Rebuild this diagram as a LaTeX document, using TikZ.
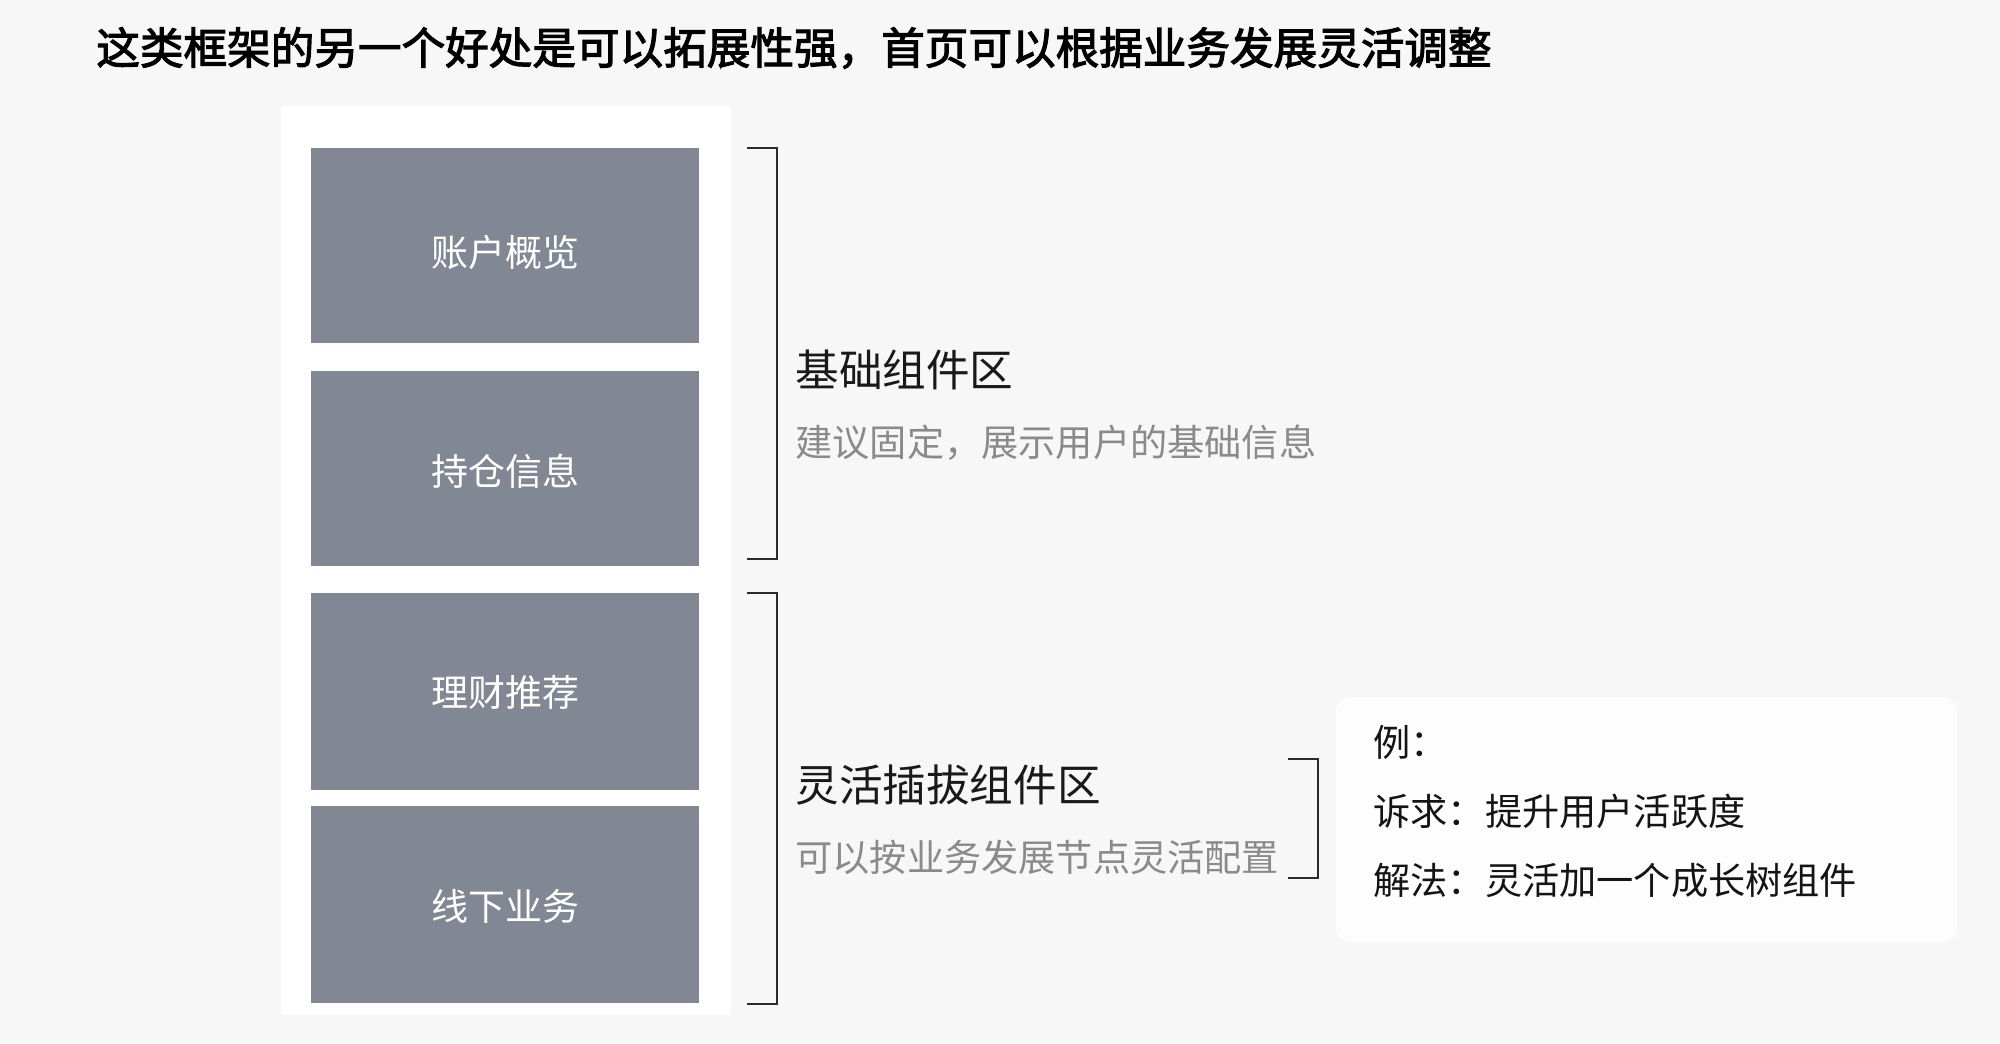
\documentclass[tikz,border=0pt]{standalone}
\usepackage{fontspec}
\setmainfont{Noto Sans CJK SC}
\newfontfamily\cjkbold{Noto Sans CJK SC}[FakeBold=2.5]
\definecolor{bgc}{HTML}{F7F7F7}
\definecolor{boxc}{HTML}{828794}
\definecolor{subc}{HTML}{8A8A8A}
\definecolor{linec}{HTML}{2A2A2A}
\definecolor{notec}{HTML}{FDFDFD}
\tikzset{
  tile/.style={fill=boxc, draw=none},
  tilelabel/.style={text=white, font=\fontsize{18.5pt}{20pt}\selectfont, inner sep=0pt},
  heading/.style={anchor=west, inner sep=0pt, text=black!90, font=\fontsize{21.8pt}{24pt}\selectfont},
  subhead/.style={anchor=west, inner sep=0pt, text=subc, font=\fontsize{18.6pt}{20pt}\selectfont},
  notetext/.style={anchor=west, inner sep=0pt, text=black!92, font=\fontsize{18.6pt}{20pt}\selectfont},
  brace/.style={draw=linec, line width=1pt},
}
\begin{document}
\begin{tikzpicture}[x=0.5pt,y=-0.5pt]
\path[fill=bgc] (0,0) rectangle (2000,1043);
\useasboundingbox (0,0) rectangle (2000,1043);
% title
\node[anchor=west, inner sep=0pt, text=black, font=\fontsize{21.8pt}{24pt}\cjkbold] (title) at (96,48) {这类框架的另一个好处是可以拓展性强，首页可以根据业务发展灵活调整};
% white panel
\path[fill=white] (281,106) rectangle (731,1015);
% tiles
\path[tile] (311,148) rectangle (699,343);
\path[tile] (311,371) rectangle (699,566);
\path[tile] (311,593) rectangle (699,790);
\path[tile] (311,806) rectangle (699,1003);
\node[tilelabel] (t1) at (505,252) {账户概览};
\node[tilelabel] (t2) at (505,471) {持仓信息};
\node[tilelabel] (t3) at (505,692) {理财推荐};
\node[tilelabel] (t4) at (505,906) {线下业务};
% brackets
\coordinate (b1a) at (747,148);
\coordinate (b1b) at (777,148);
\coordinate (b1c) at (777,559);
\coordinate (b1d) at (747,559);
\draw[brace] (b1a) -- (b1b) -- (b1c) -- (b1d);
\coordinate (b2a) at (747,593);
\coordinate (b2b) at (777,593);
\coordinate (b2c) at (777,1004);
\coordinate (b2d) at (747,1004);
\draw[brace] (b2a) -- (b2b) -- (b2c) -- (b2d);
\coordinate (b3a) at (1288,759);
\coordinate (b3b) at (1318,759);
\coordinate (b3c) at (1318,878);
\coordinate (b3d) at (1288,878);
\draw[brace] (b3a) -- (b3b) -- (b3c) -- (b3d);
% headings
\node[heading] (h1) at (795,370) {基础组件区};
\node[subhead] (s1) at (795,443) {建议固定，展示用户的基础信息};
\node[heading] (h2) at (795,785) {灵活插拔组件区};
\node[subhead] (s2) at (795,857) {可以按业务发展节点灵活配置};
% note box
\path[fill=notec, rounded corners=7pt] (1336,697) rectangle (1957,942);
\node[notetext] (n1) at (1373,742) {例：};
\node[notetext] (n2) at (1373,811) {诉求：提升用户活跃度};
\node[notetext] (n3) at (1373,880) {解法：灵活加一个成长树组件};
\end{tikzpicture}
\end{document}
